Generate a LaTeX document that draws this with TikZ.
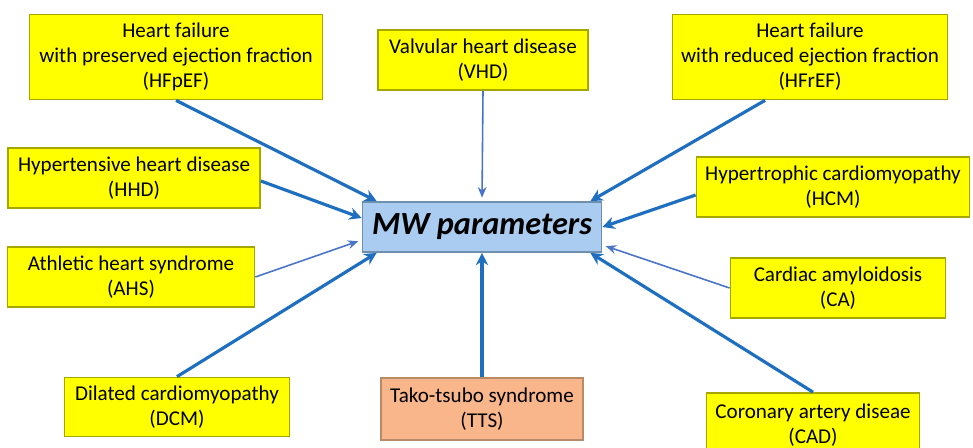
\documentclass[tikz,border=0pt]{standalone}
\usepackage{fontspec}
\setmainfont{Carlito}
\usepackage{xcolor}
\usepackage{tikz}
\usetikzlibrary{arrows.meta, positioning, calc}

\definecolor{boxyellow}{HTML}{FFFF00}
\definecolor{boxedge}{HTML}{A6A600}
\definecolor{mwblue}{HTML}{A9CCF0}
\definecolor{mwedge}{HTML}{6F8FAF}
\definecolor{ttsfill}{HTML}{F8B68A}
\definecolor{ttsedge}{HTML}{B88A66}
\definecolor{arrowdark}{HTML}{1F6FC0}
\definecolor{arrowlight}{HTML}{4A74C8}

\begin{document}
\begin{tikzpicture}[x=0.02cm, y=-0.02cm,
    disease/.style={rectangle, draw=boxedge, line width=1pt, fill=boxyellow, align=center,
      font=\fontsize{12}{14.2}\selectfont, inner sep=2pt},
    thickarrow/.style={-{Stealth[length=7pt, width=7pt]}, arrowdark, line width=1.8pt},
    thinarrow/.style={-{Stealth[length=6pt, width=5pt]}, arrowlight, line width=0.9pt, shorten >=2pt}]
  \useasboundingbox (0,0) rectangle (973,447);

  % central node
  \node[rectangle, draw=mwedge, line width=1pt, fill=mwblue, minimum width=4.78cm, minimum height=1cm,
    font=\fontsize{18.4}{20}\selectfont\bfseries\itshape] (mw) at (482,227) {MW parameters};

  % disease boxes
  \node[disease, minimum width=5.86cm, minimum height=1.7cm] (hfpef) at (176,57) {Heart failure\\with preserved ejection fraction\\(HFpEF)};
  \node[disease, minimum width=4.2cm, minimum height=1.2cm] (vhd) at (483,60) {Valvular heart disease\\(VHD)};
  \node[disease, minimum width=5.5cm, minimum height=1.7cm] (hfref) at (810,57) {Heart failure\\with reduced ejection fraction\\(HFrEF)};
  \node[disease, minimum width=5.04cm, minimum height=1.2cm] (hhd) at (134,178) {Hypertensive heart disease\\(HHD)};
  \node[disease, minimum width=5.46cm, minimum height=1.2cm] (hcm) at (833,187) {Hypertrophic cardiomyopathy\\(HCM)};
  \node[disease, minimum width=4.94cm, minimum height=1.2cm] (ahs) at (131,277) {Athletic heart syndrome\\(AHS)};
  \node[disease, minimum width=4.3cm, minimum height=1.2cm] (ca) at (838,288) {Cardiac amyloidosis\\(CA)};
  \node[disease, minimum width=4.5cm, minimum height=1.18cm] (dcm) at (177,407) {Dilated cardiomyopathy\\(DCM)};
  \node[disease, draw=ttsedge, fill=ttsfill, minimum width=4.04cm, minimum height=1.24cm] (tts) at (482,409) {Tako-tsubo syndrome\\(TTS)};
  \node[disease, minimum width=4.26cm, minimum height=1.28cm] (cad) at (813,425) {Coronary artery diseae\\(CAD)};

  % arrows into the central node
  \draw[thickarrow] (hfpef.south) -- ([xshift=0.3cm]mw.north west);
  \draw[thinarrow] (vhd.south) -- (mw.north);
  \draw[thickarrow] ([xshift=-0.9cm]hfref.south) -- ([xshift=-0.24cm]mw.north east);
  \draw[thickarrow] ([yshift=-0.06cm]hhd.east) -- ([yshift=0.18cm]mw.west);
  \draw[thickarrow] ([yshift=-0.16cm]hcm.west) -- (mw.east);
  \draw[thinarrow] (ahs.east) -- ([yshift=-0.26cm]mw.west);
  \draw[thinarrow] (ca.west) -- ([yshift=-0.36cm]mw.east);
  \draw[thickarrow] (dcm.north) -- ([xshift=0.3cm]mw.south west);
  \draw[thickarrow] (tts.north) -- (mw.south);
  \draw[thickarrow] (cad.north) -- ([xshift=-0.24cm]mw.south east);
\end{tikzpicture}
\end{document}
